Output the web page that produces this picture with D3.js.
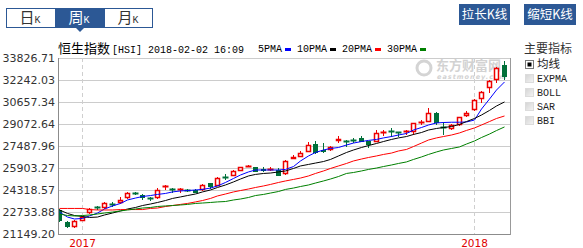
<!DOCTYPE html>
<html lang="zh">
<head>
<meta charset="UTF-8">
<title>恒生指数 周K</title>
<script src="https://cdn.jsdelivr.net/npm/d3@7/dist/d3.min.js"></script>
<style>
    body { margin: 0; background: #fff; }
    svg { display: block; }
</style>
</head>
<body>
<svg id="chart" width="583" height="248"></svg>
<script>
// weekly candles, week ending dates
var weeks = [
    "2016-12-16", "2016-12-23", "2016-12-30",
    "2017-01-06", "2017-01-13", "2017-01-20", "2017-01-27", "2017-02-03", "2017-02-10", "2017-02-17", "2017-02-24",
    "2017-03-03", "2017-03-10", "2017-03-17", "2017-03-24", "2017-03-31", "2017-04-07", "2017-04-13", "2017-04-21",
    "2017-04-28", "2017-05-05", "2017-05-12", "2017-05-19", "2017-05-26", "2017-06-02", "2017-06-09", "2017-06-16",
    "2017-06-23", "2017-06-30", "2017-07-07", "2017-07-14", "2017-07-21", "2017-07-28", "2017-08-04", "2017-08-11",
    "2017-08-18", "2017-08-25", "2017-09-01", "2017-09-08", "2017-09-15", "2017-09-22", "2017-09-29", "2017-10-06",
    "2017-10-13", "2017-10-20", "2017-10-27", "2017-11-03", "2017-11-10", "2017-11-17", "2017-11-24", "2017-12-01",
    "2017-12-08", "2017-12-15", "2017-12-22", "2017-12-29",
    "2018-01-05", "2018-01-12", "2018-01-19", "2018-01-26", "2018-02-02"
];
var openVals = [22878, 22014, 21670, 22100, 22640, 23060, 22990, 23340, 23360, 23720,
    24100, 23960, 23750, 23720, 24530, 24360, 24300, 24300, 24320, 24320,
    24800, 24630, 25240, 25350, 25710, 26010, 25950, 25800, 25780, 25760,
    25450, 26580, 26720, 27080, 27610, 27170, 27200, 27820, 27850, 27920,
    28040, 27850, 27800, 28430, 28600, 28520, 28520, 28520, 29160, 29240,
    29890, 28880, 28690, 29000, 29650, 30080, 30850, 31640, 32240, 33320];
var highVals = [22950, 22050, 22150, 22450, 23000, 23170, 23470, 23480, 23840, 24150,
    24200, 24000, 23840, 24440, 24680, 24440, 24440, 24400, 24360, 24720,
    24830, 25220, 25440, 25760, 26000, 26120, 26000, 26000, 25950, 25900,
    26450, 26840, 27150, 27800, 27870, 27680, 27500, 28180, 27920, 28040,
    28210, 27880, 28640, 28640, 28760, 28520, 28640, 29160, 29360, 30200,
    29920, 29240, 29050, 29600, 30030, 30850, 31450, 32240, 33200, 33630];
var lowVals = [22014, 21546, 21600, 22050, 22600, 22880, 22950, 23120, 23300, 23680,
    23960, 23600, 23560, 23680, 24320, 24120, 24090, 24150, 24080, 24280,
    24370, 24600, 25010, 25300, 25680, 25980, 25600, 25620, 25720, 25300,
    25400, 26550, 26700, 27040, 26900, 26960, 27150, 27700, 27440, 27680,
    27770, 27320, 27760, 28210, 28160, 28160, 28280, 28280, 29000, 29200,
    29000, 28280, 28650, 28960, 29600, 30000, 30620, 31280, 32050, 32240];
var closeVals = [22086, 21640, 22100, 22400, 22930, 22990, 23400, 23260, 23600, 24080,
    24030, 23720, 23700, 24320, 24600, 24300, 24360, 24280, 24130, 24680,
    24510, 25160, 25170, 25690, 25950, 26060, 25640, 25700, 25850, 25350,
    26410, 26720, 26960, 27560, 26960, 27080, 27440, 27990, 27760, 27850,
    27800, 27560, 28450, 28500, 28520, 28440, 28600, 29120, 29220, 29890,
    29120, 28760, 29000, 29560, 29890, 30800, 31400, 32190, 33080, 32480];

// moving averages as drawn
var ma5 = [22730, 22370, 22230, 22270, 22450, 22660, 22950, 23170, 23350, 23600,
    23740, 23850, 23920, 24000, 24070, 24180, 24250, 24280, 24320, 24360,
    24460, 24610, 24860, 25150, 25400, 25620, 25760, 25760, 25760, 25760,
    25800, 26010, 26410, 26770, 27020, 27200, 27310, 27380, 27560, 27700,
    27810, 27890, 27960, 28070, 28170, 28280, 28390, 28640, 28820, 29000,
    29150, 29180, 29200, 29200, 29220, 29360, 30150, 30870, 31520, 32100];
var ma10 = [22880, 22630, 22480, 22410, 22340, 22370, 22520, 22660, 22810, 22950,
    23060, 23200, 23310, 23420, 23560, 23710, 23820, 23920, 24030, 24180,
    24320, 24500, 24680, 24900, 25110, 25330, 25440, 25510, 25540, 25620,
    25690, 25870, 26050, 26160, 26260, 26370, 26520, 26770, 27020, 27200,
    27380, 27520, 27670, 27810, 27960, 28070, 28170, 28320, 28460, 28640,
    28750, 28820, 28890, 29040, 29250, 29470, 29720, 30050, 30370, 30660];
var ma20 = [22990, 22990, 22990, 22990, 22910, 22880, 22880, 22880, 22910, 22910,
    22910, 22910, 22990, 23020, 23130, 23200, 23280, 23350, 23460, 23560,
    23710, 23890, 24030, 24180, 24280, 24390, 24500, 24610, 24720, 24860,
    24970, 25080, 25180, 25330, 25510, 25690, 25870, 26050, 26230, 26410,
    26550, 26660, 26770, 26880, 26980, 27130, 27240, 27450, 27700, 27920,
    28070, 28170, 28280, 28430, 28610, 28790, 29000, 29250, 29470, 29650];
var ma30 = [22590, 22480, 22450, 22480, 22520, 22590, 22660, 22730, 22810, 22880,
    22950, 23020, 23060, 23130, 23170, 23200, 23240, 23280, 23350, 23380,
    23420, 23460, 23490, 23600, 23670, 23780, 23920, 24000, 24100, 24210,
    24360, 24460, 24570, 24680, 24820, 24970, 25110, 25290, 25510, 25580,
    25690, 25800, 25900, 26010, 26120, 26230, 26340, 26520, 26700, 26880,
    27060, 27200, 27310, 27420, 27630, 27850, 28100, 28350, 28600, 28860];

var yTicks = [33826.71, 32242.03, 30657.34, 29072.64, 27487.96, 25903.27, 24318.57, 22733.88, 21149.20];
var yearLabels = ["2017", "2018"];
var yearWeeks = ["2017-01-06", "2018-01-05"];

var maNames = ["5PMA", "10PMA", "20PMA", "30PMA"];
var maColors = ["#0000ff", "#000000", "#ff0000", "#008000"];
var tabNames = ["日", "周", "月"];
var indicatorNames = ["均线", "EXPMA", "BOLL", "SAR", "BBI"];

var UP = "#ee0000", DOWN = "#00703a", NAVY = "#2c5895";
var CJK = "'Noto Sans CJK SC', sans-serif";
var MONO = "'Liberation Mono', 'DejaVu Sans Mono', monospace";

var svg = d3.select("#chart");
var plotL = 58, plotR = 510, plotT = 58, plotB = 234;

var x = d3.scaleBand().domain(weeks).range([56, 508]);
var y = d3.scaleLinear().domain([21149.20, 33826.71]).range([plotB, plotT]);

function cx(w) {
    return Math.floor(x(w) + x.bandwidth() / 2) + 0.5;
}
function py(v) {
    return Math.round(y(v));
}

svg.append("defs").append("clipPath").attr("id", "plotClip")
    .append("rect").attr("x", plotL + 1).attr("y", plotT).attr("width", plotR - plotL - 1).attr("height", plotB - plotT);

// ---- top tabs ----
var tabs = svg.append("g");
tabs.append("rect").attr("x", 6.5).attr("y", 8.5).attr("width", 146).attr("height", 19)
    .attr("fill", "#fff").attr("stroke", NAVY);
tabs.append("rect").attr("x", 55).attr("y", 8).attr("width", 50).attr("height", 20).attr("fill", NAVY);
tabs.append("path").attr("d", "M76,28L84,28L80,32Z").attr("fill", NAVY);
tabNames.forEach(function (t, i) {
    var tx = tabs.append("text").attr("x", 30 + i * 49).attr("y", 23)
        .attr("text-anchor", "middle").attr("fill", i == 1 ? "#fff" : "#333");
    tx.append("tspan").attr("font-family", CJK).attr("font-size", 15).text(t);
    tx.append("tspan").attr("font-family", MONO).attr("font-size", 10).text("K");
});

// ---- right buttons ----
[["拉长K线", 459, 51], ["缩短K线", 524, 52]].forEach(function (b) {
    svg.append("rect").attr("x", b[1]).attr("y", 4).attr("width", b[2]).attr("height", 21).attr("fill", NAVY);
    svg.append("text").attr("x", b[1] + b[2] / 2).attr("y", 19).attr("text-anchor", "middle")
        .attr("font-family", CJK).attr("font-size", 12.5).attr("fill", "#fff").text(b[0]);
});

// ---- title + legend ----
var title = svg.append("text").attr("x", plotL).attr("y", 53).attr("fill", "#000");
title.append("tspan").attr("font-family", CJK).attr("font-size", 13).text("恒生指数");
title.append("tspan").attr("font-family", MONO).attr("font-size", 10).attr("dx", 2).text("[HSI] 2018-02-02 16:09");

var legX = 258;
maNames.forEach(function (n, i) {
    svg.append("text").attr("x", legX).attr("y", 52).attr("font-family", MONO).attr("font-size", 10)
        .attr("fill", "#000").text(n);
    legX += n.length * 6 + 3;
    svg.append("rect").attr("x", legX).attr("y", 48).attr("width", 6).attr("height", 3).attr("fill", maColors[i]);
    legX += 12;
});

// ---- indicator panel ----
svg.append("text").attr("x", 524).attr("y", 53).attr("font-family", CJK).attr("font-size", 12)
    .attr("fill", "#333").text("主要指标");
var grad = svg.select("defs").append("linearGradient").attr("id", "boxGrad")
    .attr("x1", 0).attr("y1", 0).attr("x2", 1).attr("y2", 1);
grad.append("stop").attr("offset", "0%").attr("stop-color", "#d4d4d4");
grad.append("stop").attr("offset", "100%").attr("stop-color", "#f4f4f4");
indicatorNames.forEach(function (n, i) {
    var by = 68 + i * 14;
    var box = svg.append("rect").attr("x", 525.5).attr("y", by - 7.5).attr("width", 8).attr("height", 8);
    if (i == 0) {
        box.attr("fill", "#fff").attr("stroke", "#777");
        svg.append("rect").attr("x", 527.5).attr("y", by - 5.5).attr("width", 4).attr("height", 4).attr("fill", "#000");
    } else {
        box.attr("fill", "url(#boxGrad)").attr("stroke", "#dcdcdc");
    }
    svg.append("text").attr("x", 537).attr("y", by)
        .attr("font-family", i == 0 ? CJK : MONO).attr("font-size", i == 0 ? 11.5 : 10)
        .attr("fill", "#222").text(n);
});

// ---- grid + axes ----
var grid = svg.append("g");
yTicks.forEach(function (v) {
    var yy = py(v) + 0.5;
    grid.append("line").attr("x1", plotL).attr("x2", plotR).attr("y1", yy).attr("y2", yy)
        .attr("stroke", "#cccccc");
    grid.append("text").attr("x", 55).attr("y", py(v) + 4).attr("text-anchor", "end")
        .attr("font-family", "'DejaVu Sans', sans-serif").attr("font-size", 11).attr("fill", "#333")
        .text(d3.format(".2f")(v));
});
yearWeeks.forEach(function (w, i) {
    grid.append("line").attr("x1", cx(w)).attr("x2", cx(w)).attr("y1", plotT).attr("y2", plotB)
        .attr("stroke", "#cfcfcf").attr("stroke-dasharray", "4,3");
    grid.append("text").attr("x", cx(w)).attr("y", 247).attr("text-anchor", "middle")
        .attr("font-family", "'DejaVu Sans', sans-serif").attr("font-size", 10.5).attr("fill", "#e00000")
        .text(yearLabels[i]);
});

// watermark
var wm = svg.append("g");
wm.append("circle").attr("cx", 424).attr("cy", 68).attr("r", 7).attr("fill", "none")
    .attr("stroke", "#d4d4d4").attr("stroke-width", 3);
wm.append("text").attr("x", 436).attr("y", 70).attr("font-family", CJK).attr("font-size", 13)
    .attr("font-weight", "bold").attr("fill", "#d2d2d2").text("东方财富网");
wm.append("text").attr("x", 437).attr("y", 79).attr("font-family", "'DejaVu Sans', sans-serif")
    .attr("font-size", 6.5).attr("font-weight", "bold").attr("font-style", "italic").attr("letter-spacing", 1)
    .attr("fill", "#d2d2d2").text("eastmoney.com");

svg.append("line").attr("x1", plotL + 0.5).attr("x2", plotL + 0.5).attr("y1", plotT).attr("y2", plotB + 1)
    .attr("stroke", "#8c8c8c");
svg.append("line").attr("x1", plotL).attr("x2", plotR + 1).attr("y1", plotB + 0.5).attr("y2", plotB + 0.5)
    .attr("stroke", "#8c8c8c");
svg.append("line").attr("x1", plotR + 0.5).attr("x2", plotR + 0.5).attr("y1", plotT).attr("y2", plotB + 1)
    .attr("stroke", "#999");

// ---- candles ----
var candles = weeks.map(function (w, i) {
    return {w: w, o: openVals[i], h: highVals[i], l: lowVals[i], c: closeVals[i]};
});
var plot = svg.append("g").attr("clip-path", "url(#plotClip)");

var cg = plot.selectAll("g.candle").data(candles).enter().append("g").attr("class", "candle");
cg.each(function (d) {
    var g = d3.select(this);
    var c = cx(d.w);
    var up = d.c >= d.o;
    var col = up ? UP : DOWN;
    var top = py(Math.max(d.o, d.c)), bot = py(Math.min(d.o, d.c));
    if (bot - top < 2) {
        // flat week: cross
        g.append("line").attr("x1", c).attr("x2", c).attr("y1", py(d.h)).attr("y2", py(d.l)).attr("stroke", col);
        g.append("line").attr("x1", c - 3).attr("x2", c + 3).attr("y1", top + 0.5).attr("y2", top + 0.5)
            .attr("stroke", col).attr("stroke-width", Math.max(1, bot - top + 1));
        return;
    }
    if (up) {
        g.append("line").attr("x1", c).attr("x2", c).attr("y1", py(d.h)).attr("y2", top).attr("stroke", col);
        g.append("line").attr("x1", c).attr("x2", c).attr("y1", bot).attr("y2", py(d.l)).attr("stroke", col);
        g.append("rect").attr("x", c - 2).attr("y", top + 0.5).attr("width", 4).attr("height", bot - top - 1)
            .attr("fill", "#fff").attr("stroke", col).attr("stroke-width", 1.5);
    } else {
        g.append("line").attr("x1", c).attr("x2", c).attr("y1", py(d.h)).attr("y2", py(d.l)).attr("stroke", col);
        g.append("rect").attr("x", c - 2.5).attr("y", top).attr("width", 5).attr("height", bot - top)
            .attr("fill", col);
    }
});

// ---- moving average lines ----
[ma5, ma10, ma20, ma30].forEach(function (arr, k) {
    var line = d3.line()
        .x(function (d, i) { return cx(weeks[i]); })
        .y(function (d) { return y(d); });
    plot.append("path").datum(arr).attr("d", line).attr("fill", "none")
        .attr("stroke", maColors[k]).attr("stroke-width", 1);
});
</script>
</body>
</html>
